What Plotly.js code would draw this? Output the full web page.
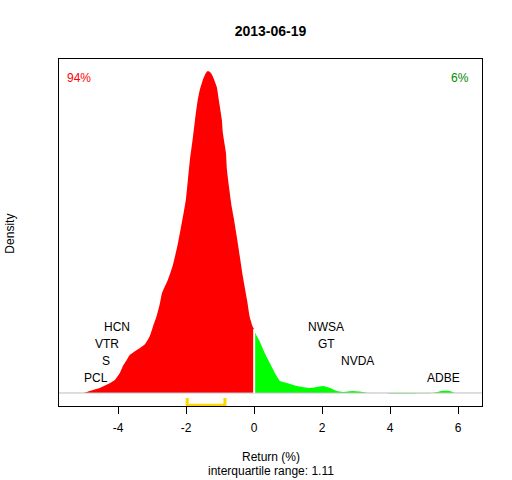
<!DOCTYPE html>
<html>
<head>
<meta charset="utf-8">
<script src="https://cdn.plot.ly/plotly-3.0.1.min.js"></script>
<style>html,body{margin:0;padding:0;background:#fff;}#chart{width:512px;height:480px;}</style>
</head>
<body>
<div id="chart"></div>
<script>
// Density of returns (%)
const retX = [-5.01,-4.84,-4.54,-4.24,-4.10,-3.95,-3.86,-3.75,-3.66,-3.45,-3.36,-3.21,-3.07,-2.98,-2.86,-2.77,-2.71,-2.54,-2.39,-2.24,-2.13,-2.07,-2.01,-1.95,-1.89,-1.80,-1.74,-1.66,-1.60,-1.51,-1.42,-1.36,-1.27,-1.21,-1.10,-1.04,-0.95,-0.92,-0.83,-0.80,-0.74,-0.66,-0.60,-0.51,-0.42,-0.33,-0.21,-0.13,-0.04,0.00,
  0.02,0.17,0.31,0.46,0.61,0.76,0.96,1.26,1.64,1.84,2.02,2.23,2.43,2.61,2.90,3.20,3.34,5.25,5.51,5.75,5.90];
const density = [0,0.0034,0.0086,0.0171,0.0223,0.0342,0.0462,0.0565,0.0650,0.0736,0.0770,0.0839,0.0976,0.1130,0.1335,0.1541,0.1712,0.1934,0.2191,0.2568,0.2910,0.3098,0.3304,0.3646,0.3989,0.4382,0.4673,0.5016,0.5187,0.5358,0.5478,0.5512,0.5478,0.5409,0.5238,0.5016,0.4673,0.4451,0.4108,0.3817,0.3526,0.3184,0.2996,0.2670,0.2328,0.1986,0.1592,0.1301,0.1130,0.1096,
  0.1044,0.0873,0.0685,0.0514,0.0342,0.0205,0.0171,0.0120,0.0086,0.0103,0.0120,0.0086,0.0034,0.0017,0.0034,0.0017,0,0,0.0034,0.0034,0];

const tickVals = [-4,-2,0,2,4,6];
const tickText = ["-4","-2","0","2","4","6"];

const labelNames = ["HCN","VTR","S","PCL","NWSA","GT","NVDA","ADBE"];
const labelX = [-4.04,-4.33,-4.36,-4.66,2.11,2.14,3.05,5.58];
const labelY = [0.113,0.0839,0.0548,0.0257,0.113,0.0839,0.0548,0.0257];

const quartiles = [-1.97,-0.86];
const iqrText = "interquartile range: 1.11";
const shareNeg = "94%";
const sharePos = "6%";
const title = "2013-06-19";

const FONT = "Liberation Sans, Arial, Helvetica, sans-serif";

const negX = [], negY = [], posX = [], posY = [];
retX.forEach((x, i) => {
  if (x <= 0) { negX.push(x); negY.push(density[i]); }
  if (x >= 0) { posX.push(x); posY.push(density[i]); }
});
const dAtZero = density[retX.indexOf(0)];

const traces = [
  {x: negX, y: negY, type: 'scatter', mode: 'lines', fill: 'tozeroy',
   fillcolor: '#FF0000', line: {width: 0, color: '#FF0000', shape: 'spline', smoothing: 0.5}, hoverinfo: 'skip'},
  {x: posX, y: posY, type: 'scatter', mode: 'lines', fill: 'tozeroy',
   fillcolor: '#00FF00', line: {width: 0, color: '#00FF00', shape: 'spline', smoothing: 0.5}, hoverinfo: 'skip'},
  {x: [quartiles[0], quartiles[0], quartiles[1], quartiles[1]],
   y: [-0.0086, -0.0212, -0.0212, -0.0086], type: 'scatter', mode: 'lines',
   line: {color: '#FFD700', width: 3}, hoverinfo: 'skip', cliponaxis: false}
];

const annotations = labelNames.map((n, i) => ({
  x: labelX[i], y: labelY[i], xref: 'x', yref: 'y', text: n, showarrow: false,
  xanchor: 'center', yanchor: 'middle', font: {family: FONT, size: 12, color: '#000'}
}));
annotations.push(
  {x: -5.14, y: 0.539, xref: 'x', yref: 'y', text: shareNeg, showarrow: false,
   xanchor: 'center', yanchor: 'middle', font: {family: FONT, size: 12, color: '#FF0000'}},
  {x: 6.04, y: 0.539, xref: 'x', yref: 'y', text: sharePos, showarrow: false,
   xanchor: 'center', yanchor: 'middle', font: {family: FONT, size: 12, color: '#008B00'}},
  {x: 0.5, y: -0.147, xref: 'paper', yref: 'paper', text: 'Return (%)', showarrow: false,
   xanchor: 'center', yanchor: 'middle', font: {family: FONT, size: 12, color: '#000'}},
  {x: 0.5, y: -0.1875, xref: 'paper', yref: 'paper', text: iqrText, showarrow: false,
   xanchor: 'center', yanchor: 'middle', font: {family: FONT, size: 12, color: '#000'}},
  {x: -0.118, y: 0.497, xref: 'paper', yref: 'paper', text: 'Density', showarrow: false,
   textangle: -90, xanchor: 'center', yanchor: 'middle', font: {family: FONT, size: 12, color: '#000'}}
);

const layout = {
  width: 512, height: 480,
  margin: {l: 59, r: 30, t: 59, b: 74, pad: 0},
  paper_bgcolor: '#fff', plot_bgcolor: '#fff',
  showlegend: false,
  title: {text: '<b>' + title + '</b>', x: 0.5, xref: 'paper', xanchor: 'center',
          y: 1 - 31/480, yref: 'container', yanchor: 'middle',
          font: {family: FONT, size: 14, color: '#000'}},
  xaxis: {range: [-5.74, 6.70], showgrid: false, zeroline: false,
          showline: true, linecolor: '#000', linewidth: 1, mirror: true,
          ticks: 'outside', ticklen: 7, tickcolor: '#000', tickwidth: 1,
          tickvals: tickVals, ticktext: tickText, ticklabelstandoff: 4,
          tickfont: {family: FONT, size: 12, color: '#000'}, layer: 'below traces'},
  yaxis: {range: [-0.0223, 0.5717], showgrid: false, zeroline: false,
          showline: true, linecolor: '#000', linewidth: 1, mirror: true,
          ticks: '', showticklabels: false, layer: 'below traces'},
  shapes: [
    {type: 'line', xref: 'paper', yref: 'y', x0: 0, x1: 1, y0: 0, y1: 0,
     line: {color: '#BEBEBE', width: 1}, layer: 'above'},
    {type: 'line', xref: 'x', yref: 'y', x0: 0, x1: 0, y0: 0, y1: dAtZero,
     line: {color: '#FFFFFF', width: 2}, layer: 'above'}
  ],
  annotations: annotations
};

Plotly.newPlot('chart', traces, layout, {displayModeBar: false, staticPlot: true});
</script>
</body>
</html>
